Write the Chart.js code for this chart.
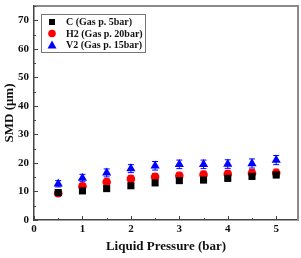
<!DOCTYPE html>
<html>
<head>
<meta charset="utf-8">
<script src="https://cdn.jsdelivr.net/npm/chart.js@4.4.0/dist/chart.umd.min.js"></script>
<style>
  html, body { margin: 0; padding: 0; background: #fff; }
</style>
</head>
<body>
<canvas id="chart" width="301" height="258"></canvas>
<script>
// liquid pressure (bar)
const pressure = [0.5, 1, 1.5, 2, 2.5, 3, 3.5, 4, 4.5, 5];

// SMD (um) for each nozzle
const smdC = [9.6, 10.2, 11.0, 12.0, 13.0, 13.8, 14.0, 14.6, 15.3, 15.8];
const smdH2 = [9.4, 11.8, 13.3, 14.4, 15.1, 15.5, 15.9, 16.1, 16.4, 16.5];
const smdV2 = [12.7, 14.7, 16.5, 18.0, 19.0, 19.5, 19.5, 19.6, 19.8, 21.0];

// error bars (+/-)
const errC = [0.6, 0.7, 0.7, 0.8, 0.8, 0.9, 0.9, 0.9, 1.0, 1.0];
const errH2 = [0.8, 1.0, 1.1, 1.1, 1.2, 1.2, 1.2, 1.3, 1.3, 1.3];
const errV2 = [1.1, 1.3, 1.4, 1.4, 1.5, 1.5, 1.5, 1.5, 1.6, 1.6];

const seriesLabels = ['C (Gas p. 5bar)', 'H2 (Gas p. 20bar)', 'V2 (Gas p. 15bar)'];
const xTicks = [0, 1, 2, 3, 4, 5];
const yTicks = [0, 10, 20, 30, 40, 50, 60, 70];

const serif = 'Liberation Serif, Times New Roman, serif';

function points(ys) {
  return pressure.map((x, i) => ({ x: x, y: ys[i] }));
}

// error bars, drawn under the markers
const errorBars = {
  id: 'errorBars',
  beforeDatasetsDraw(chart) {
    const ctx = chart.ctx;
    const xs = chart.scales.x, ys = chart.scales.y;
    chart.data.datasets.forEach((ds) => {
      ctx.save();
      ctx.strokeStyle = ds.backgroundColor;
      ctx.lineWidth = 1;
      ds.data.forEach((p, i) => {
        const px = xs.getPixelForValue(p.x);
        const top = ys.getPixelForValue(p.y + ds.err[i]);
        const bot = ys.getPixelForValue(p.y - ds.err[i]);
        ctx.beginPath();
        ctx.moveTo(px, top); ctx.lineTo(px, bot);
        ctx.moveTo(px - 3, top); ctx.lineTo(px + 3, top);
        ctx.moveTo(px - 3, bot); ctx.lineTo(px + 3, bot);
        ctx.stroke();
      });
      ctx.restore();
    });
  }
};

// frame, inward tick marks and legend box
const frame = {
  id: 'frame',
  afterDraw(chart) {
    const ctx = chart.ctx;
    const a = chart.chartArea;
    const xs = chart.scales.x, ys = chart.scales.y;
    ctx.save();
    // top and right edges
    ctx.strokeStyle = '#8a8a8a';
    ctx.lineWidth = 2;
    ctx.beginPath();
    ctx.moveTo(a.left, a.top); ctx.lineTo(a.right, a.top); ctx.lineTo(a.right, a.bottom);
    ctx.stroke();

    // ticks
    ctx.strokeStyle = '#444';
    ctx.lineWidth = 1;
    ctx.beginPath();
    for (let v = 0; v <= 5.4; v += 0.5) {
      const px = Math.round(xs.getPixelForValue(v)) + 0.5;
      const len = Number.isInteger(v) ? 4 : 2;
      ctx.moveTo(px, a.bottom); ctx.lineTo(px, a.bottom - len);
    }
    for (let v = 0; v <= 75; v += 5) {
      const py = Math.round(ys.getPixelForValue(v)) + 0.5;
      const len = v % 10 === 0 ? 4 : 2;
      ctx.moveTo(a.left, py); ctx.lineTo(a.left + len, py);
    }
    ctx.stroke();

    // legend
    const lx = 41, ly = 14, lw = 104, lh = 38;
    ctx.fillStyle = '#fff';
    ctx.fillRect(lx, ly, lw, lh);
    ctx.strokeStyle = '#777';
    ctx.lineWidth = 1;
    ctx.strokeRect(lx + 0.5, ly + 0.5, lw, lh);
    ctx.font = 'bold 10px ' + serif;
    ctx.textBaseline = 'middle';
    chart.data.datasets.forEach((ds, i) => {
      const cy = ly + 8 + i * 11.5;
      const cx = lx + 11;
      ctx.fillStyle = ds.backgroundColor;
      ctx.beginPath();
      if (ds.pointStyle === 'rect') {
        ctx.rect(cx - 3, cy - 3, 6, 6);
      } else if (ds.pointStyle === 'circle') {
        ctx.arc(cx, cy, 3.8, 0, Math.PI * 2);
      } else {
        ctx.moveTo(cx, cy - 4.5); ctx.lineTo(cx + 4.5, cy + 3.5); ctx.lineTo(cx - 4.5, cy + 3.5);
        ctx.closePath();
      }
      ctx.fill();
      ctx.fillStyle = '#111';
      ctx.fillText(ds.label, lx + 25, cy + 0.5);
    });
    ctx.restore();
  }
};

new Chart(document.getElementById('chart'), {
  type: 'scatter',
  data: {
    datasets: [
      {
        label: seriesLabels[0],
        data: points(smdC),
        err: errC,
        pointStyle: 'rect',
        pointRadius: 5,
        backgroundColor: '#000000',
        borderWidth: 0,
      },
      {
        label: seriesLabels[1],
        data: points(smdH2),
        err: errH2,
        pointStyle: 'circle',
        pointRadius: 4.3,
        backgroundColor: '#ff0000',
        borderWidth: 0,
      },
      {
        label: seriesLabels[2],
        data: points(smdV2),
        err: errV2,
        pointStyle: 'triangle',
        pointRadius: 5.3,
        backgroundColor: '#0000ff',
        borderWidth: 0,
      },
    ],
  },
  options: {
    responsive: false,
    animation: false,
    layout: { autoPadding: false, padding: { top: 6, right: 3, left: 0, bottom: 0 } },
    plugins: {
      legend: { display: false },
      tooltip: { enabled: false },
    },
    scales: {
      x: {
        type: 'linear',
        min: 0,
        max: 5.45,
        grid: { display: false, drawTicks: false },
        border: { color: '#444', width: 1.5 },
        afterBuildTicks: (s) => { s.ticks = xTicks.map((v) => ({ value: v })); },
        afterFit: (s) => { s.height = 38; s.paddingLeft = 0; s.paddingRight = 0; },
        ticks: { color: '#111', padding: 3, font: { family: serif, size: 11, weight: 'bold' } },
        title: {
          display: true,
          text: 'Liquid Pressure (bar)',
          color: '#111',
          font: { family: serif, size: 13, weight: 'bold' },
          padding: { top: 0, bottom: 4 },
        },
      },
      y: {
        min: 0,
        max: 75,
        grid: { display: false, drawTicks: false },
        border: { color: '#444', width: 1.5 },
        afterBuildTicks: (s) => { s.ticks = yTicks.map((v) => ({ value: v })); },
        afterFit: (s) => { s.width = 34; s.paddingTop = 0; s.paddingBottom = 0; },
        ticks: { color: '#111', padding: 5, font: { family: serif, size: 11, weight: 'bold' } },
        title: {
          display: true,
          text: 'SMD (\u03bcm)',
          color: '#111',
          font: { family: serif, size: 13, weight: 'bold' },
          padding: { top: 2, bottom: 0 },
        },
      },
    },
  },
  plugins: [errorBars, frame],
});
</script>
</body>
</html>
